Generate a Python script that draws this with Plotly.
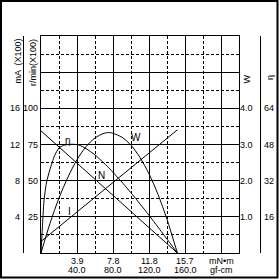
import plotly.graph_objects as go

# ---- data ----
torque_ticks_gfcm = [40, 80, 120, 160]
torque_ticks_mnm = ["3.9", "7.8", "11.8", "15.7"]
torque_ticks_gf_txt = ["40.0", "80.0", "120.0", "160.0"]

speed_ticks = [25, 50, 75, 100]          # r/min (x100)
current_ticks = [4, 8, 12, 16]           # mA (x100)
power_ticks = [1.0, 2.0, 3.0, 4.0]       # W
eff_ticks = [16, 32, 48, 64]             # %

# speed line N
n_torque = [0, 151.5]
n_speed = [84.4, 0]                      # r/min (x100)

# current line I
i_torque = [0, 151.5]
i_current = [1.28, 13.62]                # mA (x100)

# output power W
w_torque = [0, 10, 20, 30, 40, 50, 60, 70, 76, 80, 90, 100, 110, 120, 130, 140, 151.5]
w_power = [0, 0.82, 1.52, 2.10, 2.58, 2.94, 3.18, 3.31, 3.33, 3.31, 3.20, 2.98, 2.64, 2.19, 1.62, 0.93, 0]

# efficiency eta
e_torque = [0, 1.5, 3.3, 6, 10, 15, 20, 25, 30, 36, 42, 50, 60, 75, 90, 105, 120, 135, 145, 151.5]
e_eff = [0, 11, 23, 31, 37, 43, 46.5, 47.6, 48.0, 48.1, 47.8, 46.2, 43.4, 37.8, 31.3, 24.2, 16.7, 8.8, 3.5, 0]

FONT = "Liberation Sans"
L, R, T, B = 41, 41, 36, 27
W_PLOT = 280 - L - R
H_PLOT = 280 - T - B


def px_x(p):
    return (p - L) / W_PLOT


def px_y(p):
    return 1 - (p - T) / H_PLOT


fig = go.Figure()
line = dict(color="black", width=1)
fig.add_trace(go.Scatter(x=n_torque, y=n_speed, mode="lines", line=line, yaxis="y"))
fig.add_trace(go.Scatter(x=i_torque, y=i_current, mode="lines", line=line, yaxis="y2"))
fig.add_trace(go.Scatter(x=w_torque, y=w_power, mode="lines", line=dict(color="black", width=1, shape="spline", smoothing=0.8), yaxis="y3"))
fig.add_trace(go.Scatter(x=e_torque, y=e_eff, mode="lines", line=dict(color="black", width=1, shape="spline", smoothing=0.6), yaxis="y4"))

ax_common = dict(showline=True, mirror=True, linecolor="black", linewidth=1,
                 showticklabels=False, ticks="", zeroline=False,
                 showgrid=True, gridcolor="black", gridwidth=1)

fig.update_layout(
    width=280, height=280,
    margin=dict(l=L, r=R, t=T, b=B),
    paper_bgcolor="white", plot_bgcolor="white",
    showlegend=False,
    font=dict(family=FONT, size=9, color="black"),
    xaxis=dict(range=[0, 220], tick0=0, dtick=40,
               minor=dict(dtick=20, showgrid=True, gridcolor="black", griddash="3px,2px", gridwidth=1),
               **ax_common),
    yaxis=dict(range=[0, 150], tick0=0, dtick=25,
               minor=dict(dtick=12.5, showgrid=True, gridcolor="black", griddash="3px,2px", gridwidth=1),
               **ax_common),
    yaxis2=dict(range=[0, 24], overlaying="y", visible=False),
    yaxis3=dict(range=[0, 6], overlaying="y", visible=False),
    yaxis4=dict(range=[0, 96], overlaying="y", visible=False),
)

ann = []
# left tick columns
for v in speed_ticks:
    ann.append(dict(x=px_x(40), xref="paper", y=v, yref="y", text=str(v), xanchor="right", yanchor="middle", showarrow=False))
for v in current_ticks:
    ann.append(dict(x=px_x(22), xref="paper", y=v, yref="y2", text=str(v), xanchor="right", yanchor="middle", showarrow=False))
# right tick columns
for v in power_ticks:
    ann.append(dict(x=px_x(255.5), xref="paper", y=v, yref="y3", text=f"{v:.1f}", xanchor="right", yanchor="middle", showarrow=False))
for v in eff_ticks:
    ann.append(dict(x=px_x(275.5), xref="paper", y=v, yref="y4", text=str(v), xanchor="right", yanchor="middle", showarrow=False))
# x tick labels
for v, a, b in zip(torque_ticks_gfcm, torque_ticks_mnm, torque_ticks_gf_txt):
    ann.append(dict(x=v, xref="x", y=px_y(261.2), yref="paper", text=a, xanchor="center", yanchor="middle", showarrow=False))
    ann.append(dict(x=v, xref="x", y=px_y(269.8), yref="paper", text=b, xanchor="center", yanchor="middle", showarrow=False))
ann.append(dict(x=200, xref="x", y=px_y(261.2), yref="paper", text="mN•m", xanchor="center", yanchor="middle", showarrow=False))
ann.append(dict(x=200, xref="x", y=px_y(269.8), yref="paper", text="gf-cm", xanchor="center", yanchor="middle", showarrow=False))
# axis titles
ann.append(dict(x=px_x(18), xref="paper", y=px_y(37), yref="paper", text="mA  (X100)", textangle=-90, xanchor="center", yanchor="top", showarrow=False))
ann.append(dict(x=px_x(33.5), xref="paper", y=px_y(37), yref="paper", text="r/min(X100)", textangle=-90, xanchor="center", yanchor="top", showarrow=False))
ann.append(dict(x=px_x(246), xref="paper", y=px_y(78.5), yref="paper", text="W", textangle=-90, xanchor="center", yanchor="middle", showarrow=False))
ann.append(dict(x=px_x(270), xref="paper", y=px_y(78), yref="paper", text="η", textangle=-90, xanchor="center", yanchor="middle", showarrow=False))
# curve labels
ann.append(dict(x=66.7, xref="x", y=53.9, yref="y", text="N", showarrow=False, font=dict(size=10)))
ann.append(dict(x=32.2, xref="x", y=29, yref="y", text="I", showarrow=False, font=dict(size=10)))
ann.append(dict(x=30, xref="x", y=78.1, yref="y", text="η", showarrow=False, font=dict(size=10)))
ann.append(dict(x=106, xref="x", y=79.5, yref="y", text="W", showarrow=False, font=dict(size=10)))
fig.update_layout(annotations=ann)

shapes = [
    dict(type="rect", xref="paper", yref="paper", x0=px_x(1), x1=px_x(277.5), y0=px_y(1), y1=px_y(277.5),
         line=dict(color="black", width=2)),
    dict(type="line", xref="paper", yref="paper", x0=px_x(23.5), x1=px_x(23.5), y0=0, y1=1, line=dict(color="black", width=1)),
    dict(type="line", xref="paper", yref="paper", x0=px_x(260.5), x1=px_x(260.5), y0=0, y1=1, line=dict(color="black", width=1)),
]
fig.update_layout(shapes=shapes)

fig.write_html("out.html")
